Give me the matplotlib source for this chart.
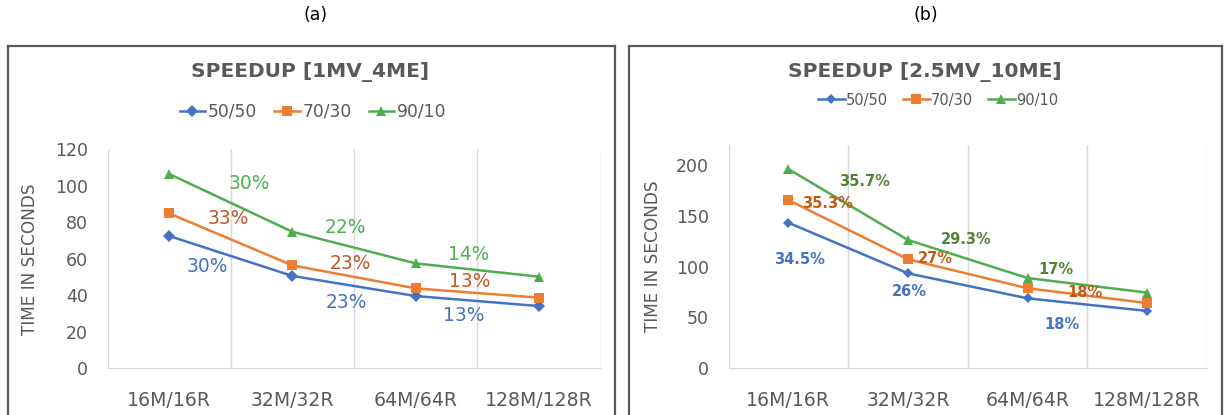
"""Speedup of the two workloads, (a) 1MV_4ME and (b) 2.5MV_10ME, drawn as
two Excel-style line charts side by side.

    python3 plot.py   ->   out.png (1225 x 415)
"""
import matplotlib
matplotlib.use("Agg")
import matplotlib.pyplot as plt          # noqa: E402
from matplotlib.lines import Line2D      # noqa: E402

W, H = 1225, 415
BLUE, ORANGE, GREEN = "#4472C4", "#ED7D31", "#4EAE4E"
TEXT, GRID, FRAME = "#595959", "#D9D9D9", "#595959"

CONFIGS = ["16M/16R", "32M/32R", "64M/64R", "128M/128R"]
SERIES = ["50/50", "70/30", "90/10"]

# (a) 1MV_4ME, seconds
A_5050 = [72.5, 50.6, 39.6, 34.1]
A_7030 = [84.9, 56.4, 43.8, 38.7]
A_9010 = [106.5, 74.8, 57.5, 50.2]
A_GAIN = {"50/50": ["30%", "23%", "13%"],
          "70/30": ["33%", "23%", "13%"],
          "90/10": ["30%", "22%", "14%"]}

# (b) 2.5MV_10ME, seconds
B_5050 = [143.2, 93.4, 68.8, 56.4]
B_7030 = [165.5, 107.2, 78.7, 64.2]
B_9010 = [196.0, 126.2, 88.8, 74.4]
B_GAIN = {"50/50": ["34.5%", "26%", "18%"],
          "70/30": ["35.3%", "27%", "18%"],
          "90/10": ["35.7%", "29.3%", "17%"]}

# where Excel dropped the data labels (category units, data units)
A_LABEL_POS = {"50/50": [(0.31, 56.0), (1.44, 35.9), (2.39, 29.2)],
               "70/30": [(0.48, 82.2), (1.47, 57.5), (2.44, 47.5)],
               "90/10": [(0.65, 101.4), (1.43, 77.3), (2.43, 62.6)]}
B_LABEL_POS = {"50/50": [(0.09, 107.2), (1.01, 75.3), (2.29, 42.6)],
               "70/30": [(0.33, 162.3), (1.23, 107.8), (2.48, 74.4)],
               "90/10": [(0.635, 184.2), (1.49, 126.9), (2.24, 96.7)]}

STYLE = {"50/50": dict(color=BLUE, marker="D"),
         "70/30": dict(color=ORANGE, marker="s"),
         "90/10": dict(color=GREEN, marker="^")}


def px_axes(fig, left, right, top, bottom):
    return fig.add_axes([left / W, 1 - bottom / H,
                         (right - left) / W, (bottom - top) / H])


def frame(fig, left, right, top):
    kw = dict(color=FRAME, lw=1.6, transform=fig.transFigure)
    fig.add_artist(Line2D([left / W, right / W], [1 - top / H] * 2, **kw))
    for x in (left, right):
        fig.add_artist(Line2D([x / W] * 2, [1 - top / H, 0], **kw))


def panel(ax, data, gains, label_pos, ymax, ystep, label_colors,
          label_kw, msize):
    x = range(len(CONFIGS))
    handles = []
    for name, vals in zip(SERIES, data):
        st = STYLE[name]
        ms = msize * (0.8 if st["marker"] == "D" else 1.0)
        (h,) = ax.plot(x, vals, color=st["color"], marker=st["marker"],
                       ms=ms, lw=1.8, mew=0, label=name)
        handles.append(h)
        for txt, (lx, ly) in zip(gains[name], label_pos[name]):
            ax.text(lx, ly, txt, color=label_colors[name], ha="center",
                    va="center", **label_kw)
    ax.set_xlim(-0.5, len(CONFIGS) - 0.5)
    ax.set_ylim(0, ymax)
    ax.set_xticks(list(x))
    ax.set_xticklabels(CONFIGS)
    ax.set_yticks(range(0, 201 if ymax > 200 else ymax + 1, ystep))
    for b in (-0.5, 0.5, 1.5, 2.5, 3.5):
        ax.axvline(b, color=GRID, lw=1, zorder=0)
    for s in ("top", "right", "left"):
        ax.spines[s].set_visible(False)
    ax.spines["bottom"].set_color(GRID)
    ax.tick_params(length=0, colors=TEXT, labelsize=12.5)
    ax.tick_params(axis="x", pad=16, labelsize=13.6)
    ax.tick_params(axis="y", pad=14)
    ax.set_ylabel("TIME IN SECONDS", color=TEXT, fontsize=12.2)
    return handles


def main():
    fig = plt.figure(figsize=(W / 100, H / 100), dpi=100)

    fig.text(316 / W, 1 - 15 / H, "(a)", ha="center", va="center",
             fontsize=12.5)
    fig.text(926 / W, 1 - 15 / H, "(b)", ha="center", va="center",
             fontsize=12.5)
    frame(fig, 8, 615, 46)
    frame(fig, 629, 1222, 46)

    # (a)
    ax = px_axes(fig, 107.5, 600.5, 149.3, 368.3)
    h = panel(ax, [A_5050, A_7030, A_9010], A_GAIN, A_LABEL_POS,
              120, 20,
              {"50/50": BLUE, "70/30": "#C0582B", "90/10": "#4FB24F"},
              dict(fontsize=13.4), 7.5)
    ax.yaxis.set_label_coords(-0.138, 0.5)
    fig.text(310 / W, 1 - 72 / H, "SPEEDUP [1MV_4ME]", ha="center",
             va="center", fontsize=14.5, fontweight="bold", color=TEXT)
    fig.legend(handles=h, loc="center", bbox_to_anchor=(313 / W, 1 - 112 / H),
               ncol=3, frameon=False, fontsize=12.3, handlelength=1.5,
               handletextpad=0.15, columnspacing=1.0, numpoints=1,
               labelcolor=TEXT)

    # (b)
    ax = px_axes(fig, 728.5, 1207, 144.6, 368.3)
    h = panel(ax, [B_5050, B_7030, B_9010], B_GAIN, B_LABEL_POS,
              220, 50,
              {"50/50": BLUE, "70/30": "#C55A11", "90/10": "#548235"},
              dict(fontsize=10.5, fontweight="bold"), 7)
    ax.yaxis.set_label_coords(-0.14, 0.5)
    fig.text(925 / W, 1 - 72 / H, "SPEEDUP [2.5MV_10ME]", ha="center",
             va="center", fontsize=14.5, fontweight="bold", color=TEXT)
    fig.legend(handles=h, loc="center", bbox_to_anchor=(938 / W, 1 - 100 / H),
               ncol=3, frameon=False, fontsize=10.5, handlelength=1.85,
               handletextpad=0.1, columnspacing=1.0, numpoints=1,
               labelcolor=TEXT)

    fig.savefig("out.png", dpi=100)
    plt.close(fig)


if __name__ == "__main__":
    main()
